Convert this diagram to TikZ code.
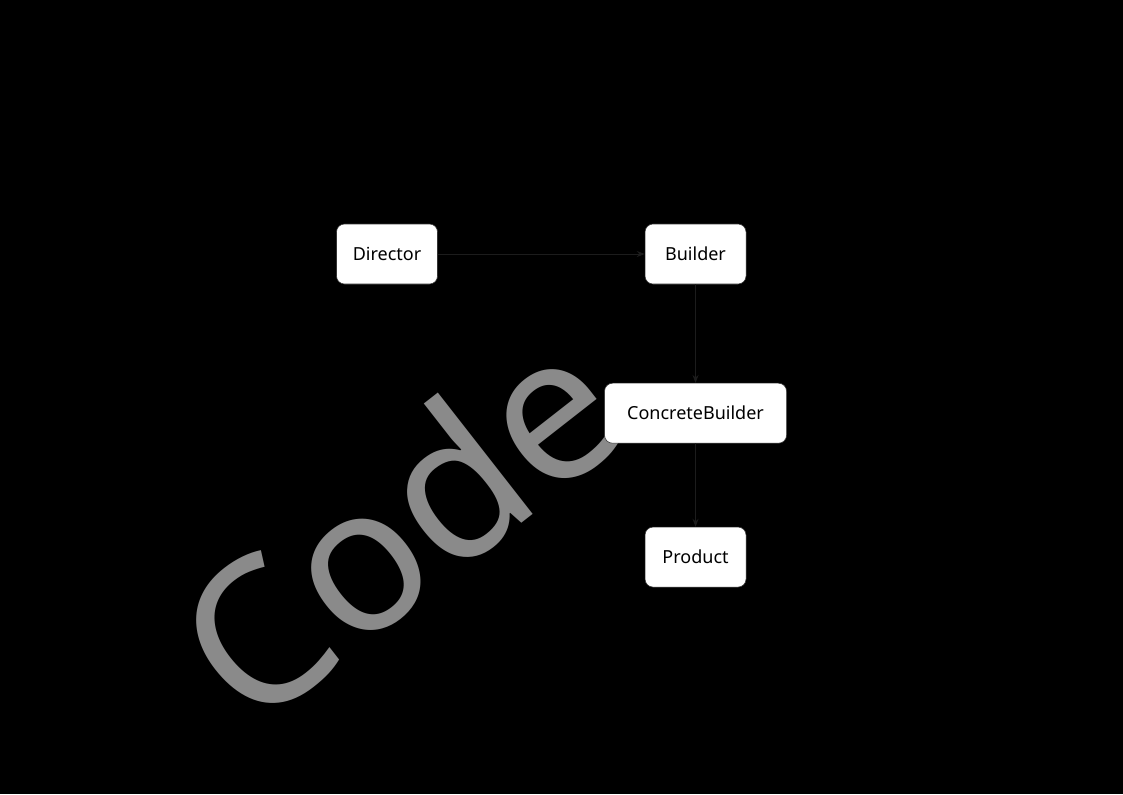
\documentclass[tikz,border=0pt]{standalone}
\usepackage{fontspec}
\usepackage{tikz}
\usetikzlibrary{positioning}
\usetikzlibrary{positioning, arrows.meta}
\newfontfamily\boxfont{Noto Sans}
\definecolor{wmgray}{RGB}{138,138,138}
\definecolor{linkgray}{RGB}{28,28,28}
\tikzset{
    classbox/.style={draw=black!80, fill=white, rounded corners=6pt, minimum width=75.75pt, minimum height=45pt, inner sep=2pt, font=\boxfont\fontsize{13.5}{16}\selectfont},
    link/.style={-{Stealth[length=6pt, width=4.5pt]}, linkgray, line width=0.7pt}
}
\begin{document}
\begin{tikzpicture}[x=0.75pt, y=-0.75pt]
    \useasboundingbox (0,0) rectangle (1123,794);
    \fill[black] (0,0) rectangle (1123,794);
    % watermark
    \node[wmgray, rotate=38, inner sep=0pt, font=\boxfont\fontsize{152}{157}\selectfont] (mark) at (397,524) {Code};
    % classes
    \node[classbox] (director) at (387,254) {Director};
    \node[classbox, right=155.25pt of director] (builder) {Builder};
    \node[classbox, below=74pt of builder, minimum width=136.5pt] (concrete) {ConcreteBuilder};
    \node[classbox, below=62.5pt of concrete] (product) {Product};
    % links
    \draw[link] (director) -- (builder);
    \draw[link] (builder) -- (concrete);
    \draw[link] (concrete) -- (product);
\end{tikzpicture}
\end{document}
